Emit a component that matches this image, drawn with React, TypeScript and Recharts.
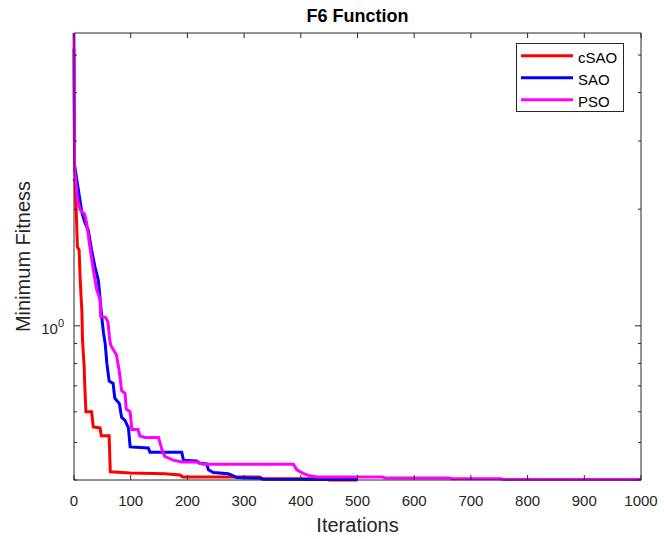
import React from 'react';
import { LineChart, Line, XAxis, YAxis, ReferenceLine, Label } from 'recharts';

// convergence curves (iteration -> best fitness)
const csaoIter = [0, 2, 4, 6, 9, 11, 14, 15, 18, 19, 21, 31, 34, 46, 48, 62, 64, 99, 160, 187, 192, 328, 332, 446, 450, 500];
const csaoFit = [2.4, 2.35, 1.96, 1.6, 1.57, 1.31, 1.08, 0.92, 0.78, 0.7, 0.6, 0.6, 0.548, 0.545, 0.52, 0.52, 0.42, 0.417, 0.415, 0.412, 0.407, 0.407, 0.403, 0.403, 0.4, 0.4];

const saoIter = [0, 1, 5, 14, 19, 25, 31, 37, 43, 49, 52, 55, 58, 62, 69, 72, 80, 84, 90, 96, 99, 131, 134, 190, 193, 216, 222, 234, 237, 246, 272, 281, 287, 328, 334, 421, 500];
const saoFit = [5.2, 2.6, 2.38, 1.96, 1.85, 1.77, 1.57, 1.42, 1.31, 1.05, 0.96, 0.9, 0.8, 0.72, 0.71, 0.65, 0.63, 0.58, 0.57, 0.545, 0.487, 0.484, 0.472, 0.472, 0.45, 0.448, 0.442, 0.44, 0.425, 0.418, 0.415, 0.41, 0.406, 0.404, 0.402, 0.401, 0.401];

const psoIter = [0, 1, 3, 6, 11, 19, 22, 28, 34, 40, 46, 47, 56, 60, 63, 65, 69, 75, 80, 84, 90, 92, 99, 102, 113, 116, 125, 149, 155, 160, 175, 190, 216, 228, 387, 393, 404, 416, 428, 545, 548, 663, 666, 754, 758, 1000];
const psoFit = [5.7, 2.53, 2.38, 2.12, 1.99, 1.94, 1.85, 1.6, 1.4, 1.24, 1.17, 1.06, 1.05, 1.02, 0.92, 0.89, 0.87, 0.84, 0.76, 0.68, 0.67, 0.61, 0.6, 0.54, 0.54, 0.52, 0.515, 0.515, 0.48, 0.46, 0.45, 0.445, 0.445, 0.439, 0.439, 0.425, 0.416, 0.41, 0.407, 0.407, 0.405, 0.405, 0.403, 0.403, 0.401, 0.401];

const seriesNames = ['cSAO', 'SAO', 'PSO'];
const seriesColors = ['#ff0000', '#0000ff', '#ff00ff'];

const xTicks = [0, 100, 200, 300, 400, 500, 600, 700, 800, 900, 1000];
const yTicks = [0.4, 0.5, 0.6, 0.7, 0.8, 0.9, 1, 2, 3, 4, 5];
const yLabelled = [1];
const xDomain = [0, 1000];
const yDomain = [0.4, 5.7];

const toPoints = (iters: number[], fits: number[]) => iters.map((it, i) => ({ iter: it, fit: fits[i] }));
const seriesData = [toPoints(csaoIter, csaoFit), toPoints(saoIter, saoFit), toPoints(psoIter, psoFit)];

const FONT = '"Liberation Sans", Arial, Helvetica, sans-serif';
const AXIS = '#262626';
const W = 664;
const H = 539;
const PLOT_L = 74;
const PLOT_R = 641;
const PLOT_T = 33;
const PLOT_B = 480;

const XTick = (props: any) => {
  const { x, payload } = props;
  return (
    <g>
      <line x1={x} x2={x} y1={PLOT_B} y2={PLOT_B - 5} stroke={AXIS} />
      <line x1={x} x2={x} y1={PLOT_T} y2={PLOT_T + 5} stroke={AXIS} />
      <text x={x} y={506} textAnchor="middle" fontSize={15} fill={AXIS} fontFamily={FONT}>
        {payload.value}
      </text>
    </g>
  );
};

const YTick = (props: any) => {
  const { y, payload } = props;
  const major = yLabelled.includes(payload.value);
  const len = major ? 6 : 3;
  return (
    <g>
      <line x1={PLOT_L} x2={PLOT_L + len} y1={y} y2={y} stroke={AXIS} />
      <line x1={PLOT_R} x2={PLOT_R - len} y1={y} y2={y} stroke={AXIS} />
      {major && (
        <text x={64} y={y + 8.5} textAnchor="end" fontSize={15} fill={AXIS} fontFamily={FONT}>
          10
          <tspan dy={-7} fontSize={11}>
            {Math.round(Math.log10(payload.value))}
          </tspan>
        </text>
      )}
    </g>
  );
};

const App: React.FC = () => {
  return (
    <div style={{ position: 'absolute', left: 0, top: 0, width: W, height: H, background: '#fff' }}>
      <LineChart width={W} height={H} margin={{ top: PLOT_T, right: W - PLOT_R, bottom: 0, left: 0 }}>
        <XAxis
          xAxisId="b"
          type="number"
          dataKey="iter"
          domain={xDomain}
          ticks={xTicks}
          interval={0}
          height={H - PLOT_B}
          tickLine={false}
          tick={XTick}
          axisLine={{ stroke: AXIS }}
        >
          <Label value="Iterations" position="insideBottom" offset={7} style={{ fontSize: 20, fill: AXIS, fontFamily: FONT }} />
        </XAxis>
        <YAxis
          yAxisId="l"
          type="number"
          scale="log"
          domain={yDomain}
          ticks={yTicks}
          interval={0}
          width={PLOT_L}
          tickLine={false}
          tick={YTick}
          axisLine={{ stroke: AXIS }}
        >
          <Label
            content={() => (
              <text
                x={30}
                y={256.5}
                transform="rotate(-90 30 256.5)"
                textAnchor="middle"
                fontSize={20}
                fill={AXIS}
                fontFamily={FONT}
              >
                Minimum Fitness
              </text>
            )}
          />
        </YAxis>
        <ReferenceLine xAxisId="b" yAxisId="l" y={yDomain[1]} stroke={AXIS} />
        <ReferenceLine xAxisId="b" yAxisId="l" x={xDomain[1]} stroke={AXIS} />
        {seriesData.map((d, i) => (
          <Line
            key={seriesNames[i]}
            xAxisId="b"
            yAxisId="l"
            data={d}
            dataKey="fit"
            name={seriesNames[i]}
            type="linear"
            stroke={seriesColors[i]}
            strokeWidth={3}
            dot={false}
            activeDot={false}
            isAnimationActive={false}
          />
        ))}
      </LineChart>

      <div
        style={{
          position: 'absolute',
          left: 0,
          top: 6,
          width: PLOT_L + PLOT_R,
          textAlign: 'center',
          fontFamily: FONT,
          fontWeight: 'bold',
          fontSize: 18,
          color: '#000',
        }}
      >
        F6 Function
      </div>

      <div
        style={{
          position: 'absolute',
          left: 516,
          top: 43,
          width: 108,
          height: 69,
          boxSizing: 'border-box',
          border: `1px solid ${AXIS}`,
          background: '#fff',
        }}
      >
        <svg width={106} height={67} style={{ display: 'block' }}>
          {seriesNames.map((n, i) => {
            const ly = 11.7 + i * 22;
            return (
              <g key={n}>
                <line x1={4} x2={56} y1={ly} y2={ly} stroke={seriesColors[i]} strokeWidth={3} />
                <text x={61} y={ly + 7} fontSize={15} fill="#000" fontFamily={FONT}>
                  {n}
                </text>
              </g>
            );
          })}
        </svg>
      </div>
    </div>
  );
};

export default App;
